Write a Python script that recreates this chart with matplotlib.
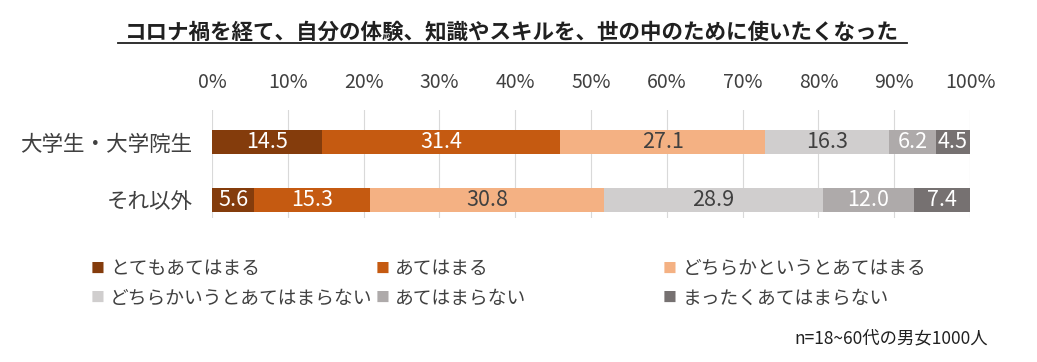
import matplotlib
matplotlib.use("Agg")
import matplotlib.pyplot as plt
import numpy as np

plt.rcParams["font.family"] = ["Noto Sans CJK JP", "DejaVu Sans"]

title = "コロナ禍を経て、自分の体験、知識やスキルを、世の中のために使いたくなった"
groups = ["大学生・大学院生", "それ以外"]
answers = ["とてもあてはまる", "あてはまる", "どちらかというとあてはまる",
           "どちらかいうとあてはまらない", "あてはまらない", "まったくあてはまらない"]
students = [14.5, 31.4, 27.1, 16.3, 6.2, 4.5]
others = [5.6, 15.3, 30.8, 28.9, 12.0, 7.4]
ticks = [0, 10, 20, 30, 40, 50, 60, 70, 80, 90, 100]
note = "n=18~60代の男女1000人"

colors = ["#843C0C", "#C55A11", "#F4B183", "#D0CECE", "#AEAAAA", "#767171"]
label_colors = ["white", "white", "#404040", "#404040", "white", "white"]

fig = plt.figure(figsize=(10.37, 3.62), dpi=100)
ax = fig.add_axes([0.2044, 0.398, 0.731, 0.298])

data = np.array([students, others])
ypos = np.arange(len(groups))
left = np.zeros(len(groups))
for i, name in enumerate(answers):
    vals = data[:, i]
    ax.barh(ypos, vals, left=left, height=0.42, color=colors[i],
            label=name, zorder=3)
    for y, v, l in zip(ypos, vals, left):
        ax.text(l + v / 2, y, f"{v:.1f}", ha="center", va="center",
                fontsize=15.5, color=label_colors[i], zorder=4)
    left += vals

ax.set_xlim(0, 100)
ax.set_ylim(1.32, -0.56)
ax.set_xticks(ticks)
ax.set_xticklabels([f"{t}%" for t in ticks], fontsize=14, color="#404040")
ax.xaxis.tick_top()
ax.tick_params(axis="x", length=0, pad=12)
ax.set_yticks(ypos)
ax.set_yticklabels(groups, fontsize=15.5, color="#404040")
ax.tick_params(axis="y", length=0, pad=14)
ax.grid(axis="x", color="#D9D9D9", lw=0.8, zorder=0)
for s in ax.spines.values():
    s.set_visible(False)

fig.text(0.494, 0.912, title, ha="center", va="center", fontsize=15.5,
         fontweight="bold", color="#202020")
# underline the title
fig.add_artist(plt.Line2D([0.114, 0.875], [0.882, 0.882], color="#202020", lw=1.3))

leg_x = [0.094, 0.369, 0.646]
leg_y = [0.258, 0.176]
for i, name in enumerate(answers):
    r, c = divmod(i, 3)
    fig.text(leg_x[c], leg_y[r], "■", color=colors[i], fontsize=10,
             va="center", ha="center")
    fig.text(leg_x[c] + 0.012, leg_y[r], name, color="#404040", fontsize=13.5,
             va="center", ha="left")

fig.text(0.953, 0.066, note, ha="right", va="center", fontsize=12.5,
         color="#202020")

fig.savefig("out.png", dpi=100)
